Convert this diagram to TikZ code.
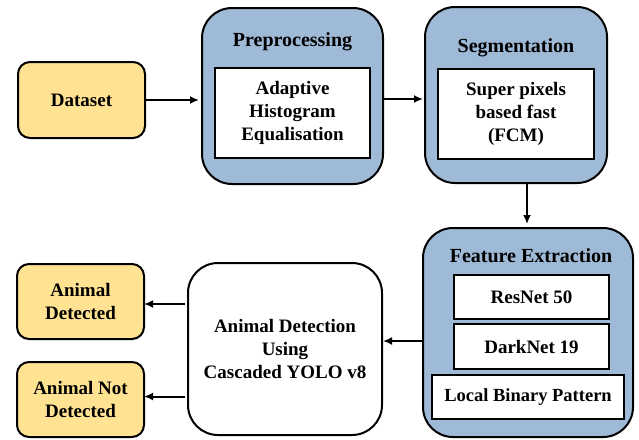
\documentclass[tikz,border=0pt]{standalone}
\usepackage{fontspec}
\setmainfont{Liberation Serif}
\usetikzlibrary{arrows.meta}
\definecolor{boxblue}{RGB}{159,186,214}
\definecolor{boxyellow}{RGB}{255,226,146}
\begin{document}
\begin{tikzpicture}[x=1pt,y=-1pt,
  base/.style={draw=black, line width=2pt, inner sep=0pt, outer sep=0pt, align=center,
    font=\bfseries\fontsize{19}{23}\selectfont},
  yellowbox/.style={base, fill=boxyellow, rounded corners=12pt},
  bluebox/.style={base, fill=boxblue, rounded corners=30pt},
  whitebox/.style={base, fill=white},
  detbox/.style={base, fill=white, rounded corners=30pt},
  titletext/.style={font=\bfseries\fontsize{20}{24}\selectfont, inner sep=0pt, anchor=base},
  arr/.style={-{Latex[length=9pt,width=8pt]}, line width=2pt}]
\useasboundingbox (0,0) rectangle (639,439);

% top row
\node[yellowbox, minimum width=127pt, minimum height=76pt] (data) at (81.5,100) {Dataset};

\node[bluebox, minimum width=181pt, minimum height=176pt] (pre) at (292.5,96) {};
\node[titletext] (pret) at (292.5,46) {Preprocessing};
\node[whitebox, minimum width=155pt, minimum height=90pt] (prein) at (292.5,113)
  {Adaptive\\Histogram\\Equalisation};

\node[bluebox, minimum width=182pt, minimum height=176pt] (seg) at (516,95) {};
\node[titletext] (segt) at (516,52) {Segmentation};
\node[whitebox, minimum width=156pt, minimum height=90pt] (segin) at (516,114)
  {Super pixels\\based fast\\(FCM)};

% feature extraction
\node[bluebox, minimum width=210pt, minimum height=209pt] (feat) at (528,332.5) {};
\node[titletext] (featt) at (531,262) {Feature Extraction};
\node[whitebox, minimum width=155pt, minimum height=44pt] (res) at (531.5,297) {ResNet 50};
\node[whitebox, minimum width=155pt, minimum height=45pt] (dark) at (531.5,346.5) {DarkNet 19};
\node[whitebox, minimum width=192pt, minimum height=44pt, font=\bfseries\fontsize{18.5}{22}\selectfont] (lbp) at (528,397) {Local Binary Pattern};

% detection
\node[detbox, minimum width=194pt, minimum height=172pt] (ad) at (285,349)
  {Animal Detection\\Using\\Cascaded YOLO v8};
\node[yellowbox, minimum width=127pt, minimum height=75pt] (yes) at (80.5,301.5) {Animal\\Detected};
\node[yellowbox, minimum width=127pt, minimum height=75pt] (no) at (80.5,399.5) {Animal Not\\Detected};

% connectors
\draw[arr, shorten >=3pt] (data.east) -- (data.east -| pre.west);
\draw[arr, shorten <=1pt, shorten >=2pt] ([yshift=-3pt]pre.east) -- ([yshift=-3pt]pre.east -| seg.west);
\draw[arr, shorten >=4pt] ([xshift=11pt]seg.south) -- ([xshift=11pt]seg.south |- feat.north);
\draw[arr, shorten <=1pt, shorten >=1pt] ([yshift=-8.5pt]feat.west) -- ([yshift=-8.5pt]feat.west -| ad.east);
\draw[arr, shorten <=3pt] ([yshift=-2.5pt]yes.east -| ad.west) -- ([yshift=-2.5pt]yes.east);
\draw[arr, shorten <=3pt] ([yshift=3pt]no.east -| ad.west) -- ([yshift=3pt]no.east);
\end{tikzpicture}
\end{document}
